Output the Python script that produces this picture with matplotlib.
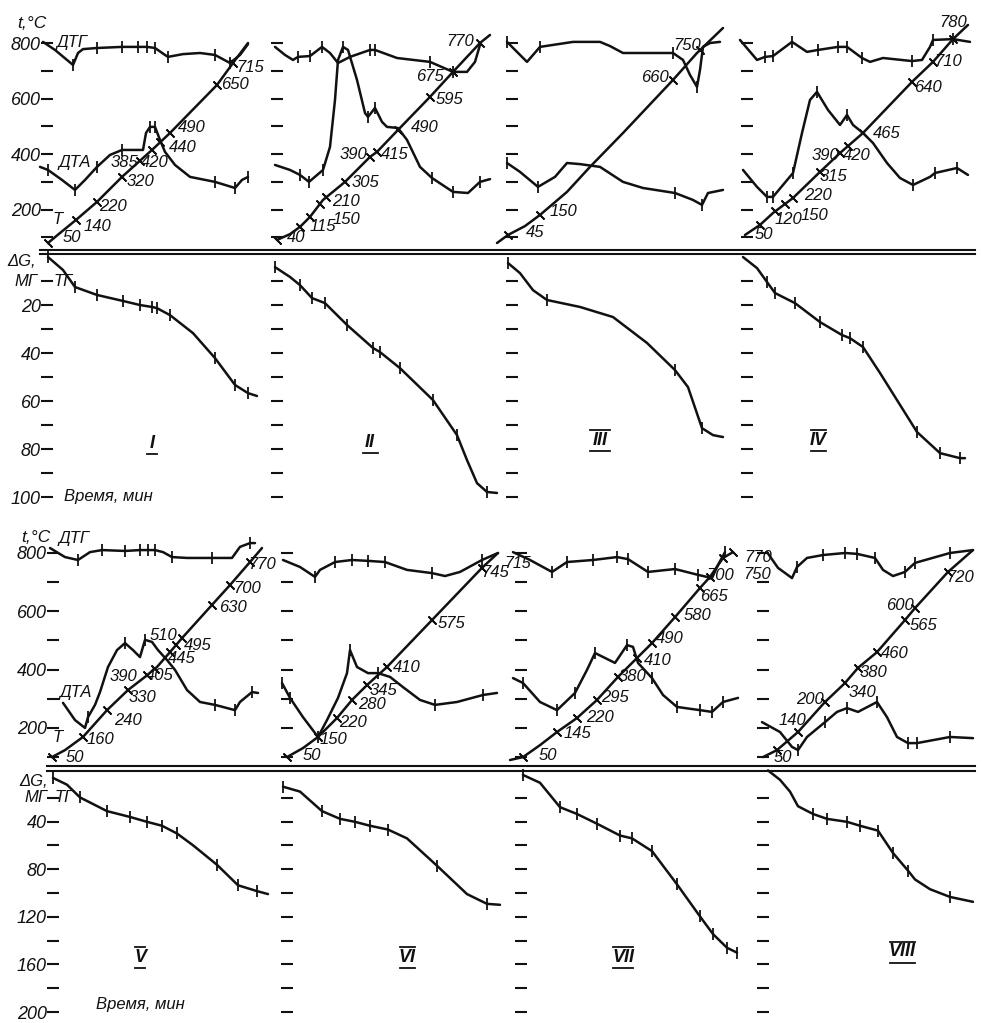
import matplotlib
matplotlib.use('Agg')
import matplotlib.pyplot as plt
from matplotlib.lines import Line2D
import numpy as np

plt.rcParams['font.family'] = ['Liberation Sans', 'DejaVu Sans']
plt.rcParams['font.style'] = 'italic'

# ================= DATA =================
# time in min, temperature-scale values in degC, mass loss in mg
# ---- Panel I ----
I_T_t = [0.5, 6.5, 14.5, 25, 37.5, 52.5, 61.5, 85, 93, 100.5]
I_T_v = [80, 116, 163, 228, 318, 415, 476, 649, 728, 800]
I_Tk_t = [0.5, 14.5, 25, 37.5, 46.5, 52.5, 56.5, 61.5, 85, 93]
I_Tk_lab = ['50', '140', '220', '320', '385', '420', '440', '490', '650', '715']
I_DTG_t = [-2, 4, 13, 15.5, 18, 25, 37.5, 45.5, 50, 54, 59, 60.5, 68, 76.5, 84, 91.5, 96.5, 100.5]
I_DTG_v = [804, 775, 721, 764, 778, 782, 786, 786, 786, 782, 757, 750, 760, 764, 757, 728, 757, 796]
I_DTG_k = [2, 5, 6, 7, 8, 9, 11, 14, 15]
I_DTA_t = [-3.5, 0.5, 7.5, 14, 19, 25, 31.5, 37.5, 44, 48, 49.5, 51.5, 54, 56.5, 59, 64, 71.5, 84, 94, 97.5, 100.5]
I_DTA_v = [354, 343, 307, 271, 307, 354, 397, 415, 415, 415, 476, 498, 498, 451, 408, 361, 318, 300, 278, 307, 318]
I_DTA_k = [1, 3, 5, 7, 11, 12, 17, 18, 20]
I_TG_t = [0.5, 8, 14, 25, 38, 46.5, 52.5, 55, 61.5, 73, 84, 94, 100.5, 105]
I_TG_m = [0, 5.4, 12.5, 15.8, 18.3, 20, 20.8, 21.3, 24.2, 31.7, 42.1, 53.3, 56.7, 57.9]
I_TG_k = [0, 2, 3, 4, 5, 6, 7, 8, 10, 11, 12]

# ---- Panel II ----
II_T_t = [0, 6.5, 11.5, 16.5, 23, 34, 46.5, 50, 60.5, 76.5, 88, 101.5, 106.5]
II_T_v = [91, 112, 138, 174, 235, 300, 390, 408, 487, 606, 696, 800, 829]
II_Tk_t = [0, 11.5, 16.5, 21.5, 24.5, 34, 46.5, 50, 60.5, 76.5, 88, 101.5]
II_Tk_lab = ['', '40', '115', '150', '210', '305', '390', '415', '490', '595', '675', '770']
II_DTG_t = [-1, 4, 8, 10.5, 16.5, 22.5, 26.5, 30.5, 36.5, 46.5, 49, 60, 76.5, 88, 95, 99, 101.5]
II_DTG_v = [786, 757, 739, 750, 753, 786, 764, 728, 750, 775, 775, 746, 732, 696, 696, 732, 793]
II_DTG_k = [3, 4, 5, 9, 10, 12, 13]
II_DTA_t = [-1, 6.5, 11.5, 16, 23, 26.5, 29, 30.5, 33, 35.5, 40, 44, 45.5, 49, 52.5, 55, 60.5, 65, 71.5, 77.5, 88, 95.5, 101.5, 106.5]
II_DTA_v = [361, 343, 325, 300, 343, 426, 595, 739, 786, 775, 667, 548, 534, 566, 516, 498, 494, 451, 354, 314, 264, 260, 300, 310]
II_DTA_k = [2, 3, 4, 8, 12, 13, 19, 20, 22]
II_TG_t = [-1, 6.5, 11.5, 17.5, 24, 35, 48, 51.5, 61.5, 78, 90, 95, 100, 105, 110]
II_TG_m = [4.2, 8.3, 11.7, 17.1, 19.2, 28.3, 37.9, 39.6, 46.3, 59.6, 74.2, 84.6, 94.2, 97.9, 98.3]
II_TG_k = [0, 2, 3, 4, 5, 6, 7, 8, 9, 10, 13]

# ---- Panel III ----
III_T_t = [-7.5, -2, 6.5, 14, 27.5, 39, 55.5, 80.5, 92.5, 105.5]
III_T_v = [80, 109, 141, 181, 264, 354, 476, 667, 764, 854]
III_Tk_t = [-2, 14, 80.5, 94]
III_Tk_lab = ['45', '150', '660', '750']
III_DTG_t = [-2.5, 2.5, 7.5, 14, 30.5, 44, 49, 55.5, 80.5, 85.5, 89, 92.5, 94, 95.5, 99, 104]
III_DTG_v = [804, 768, 732, 786, 804, 804, 789, 764, 764, 739, 685, 642, 703, 786, 800, 804]
III_DTG_k = [0, 3, 8, 11]
III_DTA_t = [-2.5, 4, 13, 21.5, 27.5, 34, 44, 55.5, 65.5, 81.5, 90.5, 95, 98, 105.5]
III_DTA_v = [368, 336, 282, 318, 368, 364, 354, 300, 278, 260, 235, 217, 260, 271]
III_DTA_k = [0, 2, 9, 11]
III_TG_t = [-2, 4, 10.5, 17.5, 34, 50.5, 67.5, 81.5, 88, 95, 100.5, 105.5]
III_TG_m = [2.5, 6.7, 13.8, 17.9, 20.8, 25, 35.8, 47.1, 54.2, 71.3, 74.2, 75]
III_TG_k = [0, 3, 7, 9]

# ---- Panel IV ----
IV_T_t = [-1, 6.5, 13, 23, 36.5, 46.5, 58, 82.5, 93, 103, 110.5]
IV_T_v = [109, 145, 188, 242, 336, 404, 476, 660, 732, 814, 865]
IV_Tk_t = [6.5, 14, 19, 23, 36.5, 46.5, 50.5, 58, 82.5, 93, 103]
IV_Tk_lab = ['50', '120', '150', '220', '315', '390', '420', '465', '640', '710', '780']
IV_DTG_t = [-3.5, 5, 9, 13, 22.5, 30, 35.5, 45.5, 50, 57.5, 61.5, 68, 82.5, 87.5, 91.5, 93, 103, 111.5]
IV_DTG_v = [811, 739, 750, 753, 804, 768, 775, 786, 786, 746, 732, 746, 735, 739, 786, 811, 814, 804]
IV_DTG_k = [2, 3, 4, 6, 7, 8, 9, 12, 15, 16]
IV_DTA_t = [-2, 5, 10, 13, 23, 27.5, 31.5, 35, 40.5, 46.5, 50, 53, 58, 63, 70, 76.5, 83, 91.5, 94, 105, 110.5]
IV_DTA_v = [343, 282, 246, 246, 332, 476, 595, 624, 559, 505, 541, 505, 476, 440, 368, 314, 289, 318, 332, 350, 325]
IV_DTA_k = [2, 3, 4, 7, 10, 16, 18, 19]
IV_TG_t = [-2, 5, 10, 14, 24, 36.5, 47.5, 51.5, 58, 66.5, 85, 96.5, 106.5, 109]
IV_TG_m = [0, 4.6, 10.4, 15, 19.2, 27.1, 32.5, 33.8, 37.5, 48.3, 72.9, 81.7, 83.8, 83.8]
IV_TG_k = [2, 3, 4, 5, 6, 7, 8, 10, 11, 12]

# ---- Panel V ----
V_T_t = [-0.5, 6, 15, 27, 37.5, 46, 52, 58.5, 64.5, 79.5, 88.5, 98.5, 104.5]
V_T_v = [100, 124, 169, 261, 330, 375, 409, 460, 508, 622, 690, 769, 817]
V_Tk_t = [-0.5, 15, 27, 37.5, 47, 51, 58.5, 64.5, 61.5, 79.5, 88.5, 98.5]
V_Tk_lab = ['50', '160', '240', '330', '390', '405', '445', '495', '510', '630', '700', '770']
V_DTG_t = [-1.5, 6, 12.5, 18.5, 24.5, 36, 43.5, 47.5, 51, 55, 59.5, 67, 79.5, 89.5, 93.5, 98.5, 101]
V_DTG_v = [817, 786, 776, 803, 810, 807, 810, 810, 810, 803, 786, 783, 783, 783, 821, 834, 834]
V_DTG_k = [2, 4, 5, 6, 7, 8, 10, 12, 15]
V_DTA_t = [5, 11, 16, 17.5, 21, 23.5, 27.5, 32, 36, 40, 43.5, 46, 49.5, 52.5, 57, 61, 67, 73.5, 81, 91, 93.5, 99.5, 102.5]
V_DTA_v = [286, 227, 200, 237, 279, 323, 409, 467, 491, 467, 443, 502, 495, 467, 433, 399, 330, 289, 279, 261, 289, 323, 320]
V_DTA_k = [3, 8, 11, 18, 19, 21]
V_TG_t = [0, 7, 13.5, 27, 38.5, 47, 54.5, 62, 70, 82, 92.5, 102, 107.5]
V_TG_m = [3.3, 9, 19.7, 31.2, 36.1, 40.2, 43.5, 50, 59.9, 76.3, 93.5, 98.4, 100.9]
V_TG_k = [0, 2, 3, 4, 5, 6, 7, 9, 10, 11]

# ---- Panel VI ----
VI_T_t = [0, 8, 15.5, 25, 32.5, 40, 50, 72.5, 97.5, 105.5]
VI_T_v = [100, 131, 169, 234, 296, 347, 409, 570, 749, 800]
VI_Tk_t = [0, 15.5, 25, 32.5, 40, 50, 72.5, 97.5]
VI_Tk_lab = ['50', '150', '220', '280', '345', '410', '575', '745']
VI_DTG_t = [-2, 6.5, 14, 16.5, 24, 32.5, 40.5, 49, 60, 72.5, 79, 86.5, 97.5, 105.5]
VI_DTG_v = [776, 752, 718, 742, 769, 776, 773, 769, 742, 731, 721, 735, 776, 800]
VI_DTG_k = [2, 4, 5, 6, 7, 9, 12]
VI_DTA_t = [-2.5, 1.5, 8, 15.5, 20, 25.5, 30, 31.5, 35, 40.5, 45.5, 51.5, 58, 66.5, 74, 85, 98, 105]
VI_DTA_v = [354, 303, 237, 169, 227, 303, 388, 467, 409, 388, 388, 375, 340, 296, 279, 289, 313, 320]
VI_DTA_k = [0, 1, 3, 7, 10, 14, 16]
VI_TG_t = [-2, 6.5, 17.5, 26.5, 34, 41.5, 50.5, 60, 75, 90, 100, 106.5]
VI_TG_m = [10.7, 14.8, 31.2, 37.7, 40.2, 43.5, 46.7, 54.1, 77.1, 100.9, 109.1, 109.9]
VI_TG_k = [0, 2, 3, 4, 5, 6, 8, 10]

# ---- Panel VII ----
VII_T_t = [-5.5, 1, 9.5, 18, 28, 38, 48.5, 65.5, 77, 89.5, 94.5, 101, 106]
VII_T_v = [90, 100, 141, 186, 234, 296, 375, 491, 580, 680, 718, 783, 803]
VII_Tk_t = [1, 18, 28, 38, 48.5, 58, 65.5, 77, 89.5, 94.5, 101, 106]
VII_Tk_lab = ['50', '145', '220', '295', '380', '410', '490', '580', '665', '700', '750', '770']
VII_DTG_t = [-4, 4.5, 15.5, 23, 36, 48, 53.5, 63.5, 77, 88.5, 95.5, 98.5, 102]
VII_DTG_v = [803, 776, 735, 769, 776, 786, 779, 735, 745, 725, 714, 759, 803]
VII_DTG_k = [2, 3, 4, 5, 6, 7, 8, 9, 12]
VII_DTA_t = [-4, 1, 9.5, 18, 27, 33, 37, 47, 53, 56, 58.5, 65.5, 71, 78, 89.5, 95.5, 101, 108.5]
VII_DTA_v = [371, 354, 289, 261, 320, 399, 457, 423, 484, 478, 423, 371, 313, 272, 261, 255, 289, 303]
VII_DTA_k = [1, 3, 4, 6, 8, 11, 13, 14, 15, 16]
VII_TG_t = [1, 9.5, 15.5, 19.5, 28, 38, 49.5, 55.5, 65.5, 78, 89.5, 96, 103, 108]
VII_TG_m = [0.8, 7.4, 19.7, 27.9, 33.6, 41.8, 51.7, 54.1, 64.8, 92.7, 119.7, 134.5, 146, 150.1]
VII_TG_k = [0, 3, 4, 5, 6, 7, 8, 9, 10, 11, 12, 13]

# ---- Panel VIII ----
VIII_T_t = [0, 7, 17.5, 31, 41, 47.5, 57, 71, 76, 92.5, 105]
VIII_T_v = [100, 124, 186, 289, 354, 406, 460, 570, 611, 735, 810]
VIII_Tk_t = [7, 17.5, 31, 41, 47.5, 57, 71, 76, 92.5]
VIII_Tk_lab = ['50', '140', '200', '340', '380', '460', '565', '600', '720']
VIII_DTG_t = [2, 7.5, 14.5, 17, 22, 30, 41, 47, 56, 60, 65, 71, 76, 93.5, 105]
VIII_DTG_v = [803, 749, 714, 752, 783, 793, 800, 797, 783, 742, 721, 735, 766, 800, 810]
VIII_DTG_k = [3, 5, 6, 7, 8, 11, 12, 13]
VIII_DTA_t = [-0.5, 8.5, 14.5, 17.5, 22, 31, 37, 42, 47.5, 57, 62, 67, 72.5, 77, 93.5, 105]
VIII_DTA_v = [220, 186, 135, 124, 169, 220, 255, 268, 255, 289, 237, 169, 148, 148, 169, 165]
VIII_DTA_k = [3, 5, 7, 9, 12, 13, 14]
VIII_TG_t = [2.5, 8.5, 13.5, 17.5, 25, 32, 42, 48.5, 57.5, 65, 72.5, 76, 83.5, 93.5, 105]
VIII_TG_m = [-3, 4.9, 14.8, 27.1, 33.6, 37.7, 40.2, 43.5, 47.6, 66.4, 81.2, 88.6, 96.8, 103.3, 107.4]
VIII_TG_k = [4, 5, 6, 7, 8, 9, 10, 13]

ROMAN = ['I', 'II', 'III', 'IV', 'V', 'VI', 'VII', 'VIII']
T_TICKS = [100, 200, 300, 400, 500, 600, 700, 800]
T_TICKLAB = ['', '200', '', '400', '', '600', '', '800']
M_TICKS_TOP = [10, 20, 30, 40, 50, 60, 70, 80, 90, 100]
M_TICKLAB_TOP = ['', '20', '', '40', '', '60', '', '80', '', '100']
M_TICKS_BOT = [20, 40, 60, 80, 100, 120, 140, 160, 180, 200]
M_TICKLAB_BOT = ['', '40', '', '80', '', '120', '', '160', '', '200']

# label offsets for the temperature marks (style, in pixels)
OFFS = {
    'I': [(24, 5), (21, -7), (16, -5), (18, -5), (-16, -2), (3, -13), (23, -5), (22, 5), (18, 0), (17, -5)],
    'II': [(0, 0), (-4, -11), (13, -10), (26, -16), (20, -4), (20, -1), (-17, 2), (18, -3), (27, 2), (20, -3), (-23, -5), (-20, 1)],
    'III': [(27, 2), (23, 3), (-18, 2), (-13, 5)],
    'IV': [(4, -10), (13, -8), (29, -12), (25, 3), (13, -5), (-15, -2), (9, -9), (24, 0), (16, -6), (15, 0), (0, 17)],
    'V': [(23, 0), (17, -3), (21, -10), (14, -7), (-24, -1), (5, -7), (12, -6), (16, -7), (-13, 10), (21, -3), (17, -3), (12, -2)],
    'VI': [(25, 2), (15, -3), (16, -4), (20, -5), (16, -5), (20, -1), (20, -3), (13, -5)],
    'VII': [(25, 2), (20, -1), (23, 1), (18, 2), (14, 0), (21, -2), (18, 5), (22, 2), (14, -9), (10, 1), (34, -17), (25, -5)],
    'VIII': [(6, -7), (-6, 12), (-15, 2), (17, -9), (15, -5), (18, -1), (18, -5), (-15, 3), (12, -6)],
}

# ================= FIGURE =================
W, H = 982, 1023
fig = plt.figure(figsize=(W / 100, H / 100), dpi=100)
fig.patch.set_facecolor('white')
INK = '#111111'
G = globals()

X0_TOP = [47, 277, 512, 747]
X0_BOT = [53, 287, 521, 763]
ROWS = {
    'top_up': (15, 249, (58.4, 900.8)),
    'top_lo': (252, 510, (105.4, -2.1)),
    'bot_up': (525, 768, (62.6, 896.0)),
    'bot_lo': (771, 1023, (209.2, -2.5)),
}


def make_ax(x0, key, ticks, labels):
    ytop, ybot, ylim = ROWS[key]
    ax = fig.add_axes([(x0 - 20) / W, 1 - ybot / H, 260 / W, (ybot - ytop) / H])
    ax.set_xlim(-10, 120)
    ax.set_ylim(*ylim)
    ax.patch.set_alpha(0)
    for s in ['top', 'right', 'bottom']:
        ax.spines[s].set_visible(False)
    ax.spines['left'].set_position(('data', 0))
    ax.spines['left'].set_color('none')
    ax.set_xticks([])
    ax.set_yticks(ticks)
    ax.set_yticklabels(labels)
    ax.tick_params(axis='y', direction='inout', length=9, width=1.5, color=INK,
                   pad=0, labelsize=13, labelcolor=INK)
    for lab in ax.get_yticklabels():
        lab.set_style('italic')
    return ax


def curve(ax, t, v, k):
    t = np.asarray(t, float)
    v = np.asarray(v, float)
    ax.plot(t, v, color=INK, lw=1.8, solid_joinstyle='round', solid_capstyle='round', clip_on=False)
    if k:
        ax.plot(t[k], v[k], ls='none', marker='|', ms=8, mew=1.3, color=INK, clip_on=False)


for i, r in enumerate(ROMAN):
    top = i < 4
    x0 = X0_TOP[i] if top else X0_BOT[i - 4]
    first = i in (0, 4)
    up = make_ax(x0, 'top_up' if top else 'bot_up', T_TICKS,
                 T_TICKLAB if first else [''] * len(T_TICKS))
    if top:
        lo = make_ax(x0, 'top_lo', M_TICKS_TOP, M_TICKLAB_TOP if first else [''] * len(M_TICKS_TOP))
    else:
        lo = make_ax(x0, 'bot_lo', M_TICKS_BOT, M_TICKLAB_BOT if first else [''] * len(M_TICKS_BOT))

    # T curve with temperature marks
    Tt, Tv = G[r + '_T_t'], G[r + '_T_v']
    curve(up, Tt, Tv, [])
    kt = np.asarray(G[r + '_Tk_t'], float)
    kv = np.interp(kt, Tt, Tv)
    up.plot(kt, kv, ls='none', marker=(2, 2, 45), ms=8, mew=1.3, color=INK, clip_on=False)
    for tt, vv, lab, off in zip(kt, kv, G[r + '_Tk_lab'], OFFS[r]):
        if lab:
            up.annotate(lab, (tt, vv), xytext=off, textcoords='offset pixels',
                        ha='center', va='center', fontsize=12, style='italic', color=INK,
                        annotation_clip=False)
    curve(up, G[r + '_DTG_t'], G[r + '_DTG_v'], G[r + '_DTG_k'])
    curve(up, G[r + '_DTA_t'], G[r + '_DTA_v'], G[r + '_DTA_k'])
    curve(lo, G[r + '_TG_t'], G[r + '_TG_m'], G[r + '_TG_k'])


def ptext(x, y, s, size=13, **kw):
    fig.text(x / W, 1 - y / H, s, ha='center', va='center', fontsize=size,
             style='italic', color=INK, **kw)


def hline(x1, x2, y, lw=1.5):
    fig.add_artist(Line2D([x1 / W, x2 / W], [1 - y / H, 1 - y / H], color=INK, lw=lw,
                          transform=fig.transFigure))


# separators (double lines)
hline(40, 975, 250)
hline(40, 975, 254)
hline(47, 975, 766)
hline(47, 975, 771)

# axis captions
ptext(32, 23, 't,°C', 12.5)
ptext(72, 43, 'ДТГ', 12)
ptext(75, 163, 'ДТА', 12)
ptext(58, 219, 'T', 12)
ptext(22, 262, 'ΔG,', 12)
ptext(26, 281, 'МГ', 12)
ptext(63, 282, 'ТГ', 12)
ptext(108, 497, 'Время, мин', 12)

ptext(36, 538, 't,°C', 12.5)
ptext(74, 538, 'ДТГ', 12)
ptext(76, 692, 'ДТА', 12)
ptext(58, 738, 'T', 12)
ptext(34, 782, 'ΔG,', 12)
ptext(36, 797, 'МГ', 12)
ptext(64, 797, 'ТГ', 12)
ptext(140, 1004, 'Время, мин', 12)
ptext(518, 563, '715', 11.5)

# roman numerals
RPOS = [(152, 443), (370, 442), (600, 440), (818, 440), (140, 957), (407, 957), (623, 957), (902, 952)]
for (x, y), r in zip(RPOS, ROMAN):
    ptext(x, y, r, 13, fontweight='bold')
    w = 5 + 5 * len(r)
    hline(x - w / 2, x + w / 2, y + 11, 1.3)
    if r not in ('I', 'II'):
        hline(x - w / 2, x + w / 2, y - 10, 1.3)

fig.savefig('out.png', dpi=100, facecolor='white')
